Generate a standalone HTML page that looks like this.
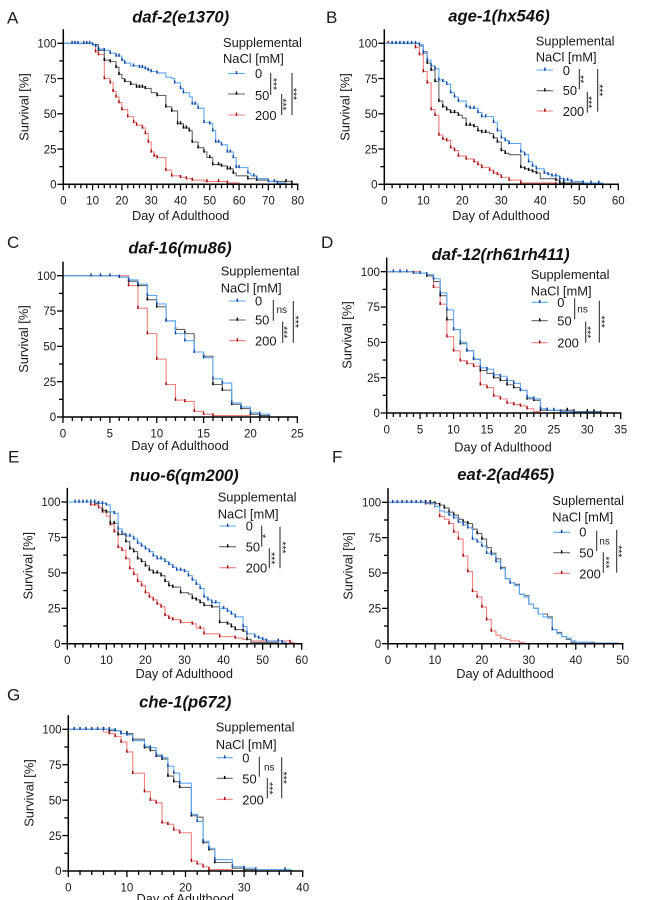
<!DOCTYPE html>
<html lang="en">
<head>
<meta charset="utf-8">
<title>Survival curves with supplemental NaCl</title>
<style>
html,body{margin:0;padding:0;background:#fff;width:645px;height:900px;overflow:hidden}
svg{display:block;font-family:"Liberation Sans",sans-serif;fill:#1a1a1a;filter:blur(.3px)}
</style>
</head>
<body>
<svg id="figure" width="645" height="900" viewBox="0 0 645 900" xmlns="http://www.w3.org/2000/svg"></svg>
<script>
// Panel A: daf-2(e1370)
const aDays0 = [0,10,11,12,14,16,18,20,21,23,26,28,29,30,32,35,37,38,40,41,43,44,46,48,50,51,52,54,56,58,59,63,64,66,70,73,76];
const aSurv0 = [100,99,98,96,95,93,91,88,86,84,83,82,81,80,79,76,75,72,68,65,62,57,54,44,43,38,30,28,23,19,12,8,6,4,2,1,0.5];
const aCens0 = [3,4,5,7,8,9,10,11,12,14,16,18,19,20,21,24,26,27,28,29,30,32,38,40,41,44,45,46,48,50,51,52,53,54,56,57,58,59,60,63,65,66,70,72,73];
const aDays50 = [0,10,12,14,16,18,19,20,21,23,25,28,30,32,35,37,39,41,43,44,46,48,49,51,54,56,58,59,63,66,70,78];
const aSurv50 = [100,99,95,88,87,83,78,75,73,71,69,68,65,63,55,52,43,40,38,30,26,23,19,14,13,11,8,6,4,3,2,1];
const aCens50 = [12,14,16,18,19,21,23,25,26,27,28,32,35,37,39,40,41,42,43,44,46,48,50,51,53,54,56,57,58,63,66,76,78];
const aDays200 = [0,10,11,12,14,16,17,18,19,20,22,24,25,27,28,29,30,31,32,35,37,40,42,44,48,56,60];
const aSurv200 = [100,99,94,92,75,72,66,62,58,53,48,44,42,40,36,30,23,20,19,10,6,5,4,3,2,1,0];
const aCens200 = [11,12,14,16,17,18,19,20,22,24,25,27,28,29,30,31,32,35,37,40,42,44,49,53,56];

// Panel B: age-1(hx546)
const bDays0 = [0,9,10,11,12,13,14,15,16,17,18,19,21,22,24,25,28,29,30,31,32,35,36,37,38,39,41,42,43,45,46,48,51,56];
const bSurv0 = [100,99,93,88,84,82,74,73,71,65,62,59,55,54,51,48,44,38,33,31,29,23,21,16,13,11,8,7,6,4,3,2,1,0];
const bCens0 = [2,3,4,5,6,7,8,9,10,11,12,13,14,15,16,17,18,19,21,22,23,24,25,26,28,29,30,31,32,35,36,37,38,39,41,42,43,44,45,46,47,48,51,53,55];
const bDays50 = [0,9,10,11,12,13,14,15,16,17,19,20,21,23,24,25,27,28,29,30,31,32,35,36,37,38,39,40,44,45,52];
const bSurv50 = [100,98,94,86,81,73,59,55,53,51,49,47,42,41,38,37,36,33,30,24,22,21,12,11,10,9,8,4,3,1,0];
const bCens50 = [10,11,12,13,14,15,16,17,18,19,21,22,23,24,25,26,28,29,30,31,35,36,37,38,39,44,45,46,51];
const bDays200 = [0,8,9,10,11,12,13,14,15,16,17,18,19,21,23,24,25,27,28,29,30,32,35,44];
const bSurv200 = [100,97,92,80,72,53,49,35,32,31,26,24,20,18,16,14,12,10,8,7,5,3,1,0];
const bCens200 = [1,8,9,10,11,12,13,14,15,16,17,18,19,21,23,24,25,27,28,29,30,32,35,44];

// Panel C: daf-16(mu86)
const cDays0 = [0,6,7,8,9,10,11,12,13,14,15,16,17,18,19,20,21,22];
const cSurv0 = [100,99,97,94,86,80,68,59,54,46,42,27,24,10,7,3,2,0];
const cCens0 = [3,4,5,6,7,8,9,10,11,12,13,14,15,16,17,18,19,20,21,22];
const cDays50 = [0,6,7,8,9,10,11,12,13,14,15,16,17,18,19,20,21,22];
const cSurv50 = [100,99,96,93,83,78,68,62,59,46,43,23,19,9,6,2,1,0];
const cCens50 = [6,7,8,9,10,11,12,13,14,15,16,17,18,19,20,21];
const cDays200 = [0,7,8,9,10,11,12,13,14,15,16,20];
const cSurv200 = [100,93,77,59,41,23,12,11,4,2,1,0];
const cCens200 = [7,8,9,10,11,12,13,14,15,16];

// Panel D: daf-12(rh61rh411)
const dDays0 = [0,4,6,7,8,9,10,11,12,13,14,15,16,17,18,19,20,21,22,23,24,26,28,32];
const dSurv0 = [100,99,98,95,85,73,59,50,44,38,32,31,27,26,23,21,16,11,10,3,2,1,0.5,0];
const dCens0 = [1,2,3,4,5,6,7,8,9,10,11,12,13,14,15,16,17,18,19,20,21,22,23,24,25,26,28];
const dDays50 = [0,4,6,7,8,9,10,11,12,13,14,15,16,17,18,19,20,21,22,23,28,32];
const dSurv50 = [100,99,97,93,83,66,59,49,44,38,30,28,25,23,20,18,16,10,9,2,1,0];
const dCens50 = [6,8,9,11,12,13,14,16,17,18,19,20,21,22,23,24,27,28,30,31,32];
const dDays200 = [0,5,6,7,8,9,10,11,12,13,14,15,16,17,18,19,20,21,22,23];
const dSurv200 = [100,99,98,89,77,54,44,37,35,33,20,18,12,10,7,6,5,3,1,0];
const dCens200 = [7,8,9,10,11,12,13,14,15,16,17,18,19,20,21];

// Panel E: nuo-6(qm200)
const eDays0 = [0,8,10,11,12,13,14,15,17,18,19,20,21,22,23,25,26,27,28,30,31,32,33,34,35,36,37,39,41,42,43,45,46,48,49,50,51,54,55,56];
const eSurv0 = [100,99,98,93,92,81,78,76,74,71,69,67,65,62,60,58,56,54,52,51,48,45,42,39,33,31,29,25,23,21,19,12,7,5,4,3,2,2,1,0];
const eCens0 = [2,3,4,5,6,7,8,9,10,12,13,14,15,16,17,18,19,20,21,22,23,24,25,26,27,28,29,30,31,32,33,34,35,36,37,38,40,41,42,43,45,46,48,49,50,51,54,55];
const eDays50 = [0,7,9,10,11,13,15,16,17,18,19,20,21,22,24,25,26,27,29,31,32,33,34,35,37,39,41,42,43,45,46,47,54];
const eSurv50 = [100,99,94,93,85,77,72,67,65,60,58,55,52,50,48,44,41,40,36,35,32,31,29,27,26,15,14,12,10,9,3,1,0];
const eCens50 = [8,9,10,11,12,13,15,16,17,18,19,20,21,22,23,24,25,26,27,29,32,33,34,35,37,39,41,42,43,45,46];
const eDays200 = [0,6,8,9,10,11,12,13,14,15,16,17,18,19,20,21,22,23,24,25,26,27,29,32,33,35,39,43,45,47,57,58];
const eSurv200 = [100,98,96,93,90,84,79,68,66,60,53,49,44,41,36,33,31,28,26,20,18,17,15,14,11,7,5,4,3,2,1,0];
const eCens200 = [6,7,8,9,11,12,13,14,15,16,17,18,19,20,21,22,23,24,25,26,27,29,32,34,35,39,43,57];

// Panel F: eat-2(ad465)
const fDays0 = [0,8,9,10,11,12,13,14,15,16,17,18,19,20,21,22,23,24,25,26,27,28,29,30,31,32,33,34,35,36,37,38,39,40,43,49];
const fSurv0 = [100,99.5,99,97,94,93,91,89,86,84,82,74,72,69,64,63,58,53,46,43,41,35,33,28,25,21,19,18,10,7,5,4,2,1,0.5,0];
const fCens0 = [1,2,3,4,5,6,7,8,9,13,14,15,16,17,18,19,20,21,22,23,24,26,35];
const fDays50 = [0,10,11,12,13,14,15,16,17,18,19,20,21,22,23,24,25,26,27,28,29,30,31,32,34,35,36,37,38,39,44];
const fSurv50 = [100,99,98,96,93,91,88,86,85,81,78,74,68,64,60,54,46,43,42,35,34,28,25,21,19,10,8,5,3,1,0];
const fCens50 = [8,9,10,11,12,13,14,15,16,17,18,19,20,21,22,23];
const fDays200 = [0,8,10,11,12,13,14,15,16,17,18,19,20,21,22,23,24,25,26,28,29];
const fSurv200 = [100,99,97,90,88,85,79,74,62,51,37,33,26,17,9,6,4,3,2,1,0];
const fCens200 = [8,10,11,13,14,15,16,17,18,19,20,21,22];

// Panel G: che-1(p672)
const gDays0 = [0,8,9,10,11,13,14,15,16,17,18,19,21,22,23,24,25,28,30,32,38];
const gSurv0 = [100,99,97,96,92,88,87,82,80,74,69,62,40,35,21,16,8,3,2,1,0];
const gCens0 = [1,2,3,4,5,6,7,8,9,10,11,13,14,15,16,17,18,19,21,22,23,24,25,28,30,32,37];
const gDays50 = [0,7,9,11,13,14,15,16,17,18,19,21,22,23,24,25,28,30,32];
const gSurv50 = [100,99,97,93,87,85,81,79,67,63,59,39,38,20,15,6,2,1,0];
const gCens50 = [6,7,8,9,10,11,13,14,15,16,17,18,19,21,22,23,24,25,30];
const gDays200 = [0,6,7,8,9,10,11,13,14,15,16,17,18,19,21,22,23,24,28];
const gSurv200 = [100,98,97,95,91,84,69,56,50,48,34,33,29,27,7,5,3,1,0];
const gCens200 = [7,8,9,10,11,13,14,15,16,17,18,19,21,22,23,24];

const doseLabels = ['0','50','200'];
const yTickValues = [0,25,50,75,100];

const NS = 'http://www.w3.org/2000/svg';
const root = document.getElementById('figure');

const panels = [
 {id:'a',letter:'A',lx:7,ly:23.3,title:'daf-2(e1370)',tx:180.7,ty:22.7,x0:63.3,x1:297.7,y0:184.3,y100:43.3,xMax:80,xMajor:10,xMinor:2,
  xtx:180.7,xty:220,ytx:24,yty:107,head:'Supplemental',hx:223,hy1:47,hy2:63,sx1:228,sx2:245,sy:[73.5,94,115],vx:255,vy:[78,100,120],
  bars:[[270.7,73,95,'***',276],[281.7,94,115,'***',285.5],[292,73,115,'***',296]],
  series:[[aDays0,aSurv0,aCens0],[aDays50,aSurv50,aCens50],[aDays200,aSurv200,aCens200]]},
 {id:'b',letter:'B',lx:326,ly:23,title:'age-1(hx546)',tx:499,ty:21.7,x0:384.3,x1:618.3,y0:184.3,y100:43.3,xMax:60,xMajor:10,xMinor:2,
  xtx:501,xty:220,ytx:345,yty:107,head:'Supplemental',hx:535.7,hy1:45.7,hy2:61.7,sx1:536.7,sx2:553,sy:[70,90.7,111],vx:562.7,vy:[75,95,116],
  bars:[[579.3,69,89.3,'**',583],[587.3,91.7,112.7,'***',591],[597.7,69,111.7,'***',602]],
  series:[[bDays0,bSurv0,bCens0],[bDays50,bSurv50,bCens50],[bDays200,bSurv200,bCens200]]},
 {id:'c',letter:'C',lx:7,ly:248,title:'daf-16(mu86)',tx:180,ty:253.3,x0:63,x1:297.3,y0:417,y100:275.7,xMax:25,xMajor:5,xMinor:1,
  xtx:180,xty:450,ytx:23.5,yty:339,head:'Supplemental',hx:220.7,hy1:275.7,hy2:292.3,sx1:229,sx2:245.7,sy:[301,320,340.7],vx:255,vy:[305.7,324.3,345.7],
  bars:[[273.3,300,320.7,'ns',276.5,313],[282.7,321.7,342.7,'***',286.5],[293.3,301,342.7,'***',298]],
  series:[[cDays0,cSurv0,cCens0],[cDays50,cSurv50,cCens50],[cDays200,cSurv200,cCens200]]},
 {id:'d',letter:'D',lx:321,ly:248,title:'daf-12(rh61rh411)',tx:500.7,ty:260,x0:386.7,x1:620.7,y0:413,y100:271.7,xMax:35,xMajor:5,xMinor:1,
  xtx:503,xty:451.7,ytx:347,yty:335,head:'Supplemental',hx:530.7,hy1:279,hy2:295.7,sx1:531.7,sx2:547.7,sy:[302.3,320.7,342.7],vx:557.3,vy:[307,325.7,347.3],
  bars:[[574.7,298.3,319.3,'ns',577.3,312.3],[585.7,321.7,342.7,'***',590],[599.3,300.7,342.7,'***',604]],
  series:[[dDays0,dSurv0,dCens0],[dDays50,dSurv50,dCens50],[dDays200,dSurv200,dCens200]]},
 {id:'e',letter:'E',lx:8,ly:462.7,title:'nuo-6(qm200)',tx:184.3,ty:481,x0:67.3,x1:301.7,y0:643.7,y100:502,xMax:60,xMajor:10,xMinor:2,
  xtx:184.3,xty:678,ytx:28,yty:565.7,head:'Supplemental',hx:217.7,hy1:501.7,hy2:518.3,sx1:219.3,sx2:236,sy:[526,546.7,567.7],vx:245.7,vy:[530.7,551.7,572.3],
  bars:[[261.7,525.7,546.7,'*',265],[269.3,548.3,568.3,'***',274],[280,526.7,568.3,'***',285]],
  series:[[eDays0,eSurv0,eCens0],[eDays50,eSurv50,eCens50],[eDays200,eSurv200,eCens200]]},
 {id:'f',letter:'F',lx:332,ly:462.7,title:'eat-2(ad465)',tx:505.7,ty:480,x0:388,x1:622.7,y0:643.7,y100:502.3,xMax:50,xMajor:10,xMinor:2,
  xtx:505,xty:678,ytx:348,yty:566,head:'Suplemental',hx:552.3,hy1:505,hy2:521.7,sx1:553.3,sx2:570,sy:[532.3,552.7,573.3],vx:579.3,vy:[536.7,557.3,578.3],
  bars:[[596.7,530.7,551,'ns',599.3,544.3],[603.3,552.3,572.7,'***',608.3],[616.7,530,572.7,'***',621]],
  series:[[fDays0,fSurv0,fCens0],[fDays50,fSurv50,fCens50],[fDays200,fSurv200,fCens200]]},
 {id:'g',letter:'G',lx:7,ly:700.7,title:'che-1(p672)',tx:185.3,ty:707.7,x0:68.3,x1:302.7,y0:871,y100:729.3,xMax:40,xMajor:10,xMinor:2,
  xtx:185.3,xty:903,ytx:29,yty:793,head:'Supplemental',hx:215.7,hy1:731.7,hy2:749,sx1:216.7,sx2:232.7,sy:[757.7,778.3,799.3],vx:242.3,vy:[762.7,783.3,804.3],
  bars:[[259.3,756.7,776.7,'ns',264,770.7],[267.3,778.3,798.3,'***',271.7],[281.7,757.3,798.3,'***',286]],
  series:[[gDays0,gSurv0,gCens0],[gDays50,gSurv50,gCens50],[gDays200,gSurv200,gCens200]]}
];

const lineColors = ['#5da8f5','#666666','#f58080'];
const markColors = ['#1a49a0','#000000','#a01010'];

function mk(tag, attrs, parent) {
  const e = document.createElementNS(NS, tag);
  for (const k in attrs) e.setAttribute(k, attrs[k]);
  parent.appendChild(e);
  return e;
}
function mkText(str, attrs, parent) {
  const e = mk('text', attrs, parent);
  e.textContent = str;
  return e;
}
function survivalAt(days, surv, d) {
  let v = surv[0];
  for (let i = 0; i < days.length; i++) { if (days[i] <= d) v = surv[i]; }
  return v;
}

panels.forEach(function (p) {
  const xScale = function (d) { return p.x0 + (p.x1 - p.x0) * d / p.xMax; };
  const yScale = function (s) { return p.y0 - (p.y0 - p.y100) * s / 100; };

  const g = mk('g', {}, root);
  
  

  const letter = mkText(p.letter, {x:p.lx, y:p.ly, 'font-size':17}, g);
  
  

  const title = mkText(p.title, {x:p.tx, y:p.ty, 'font-size':16.6, 'font-weight':'bold', 'font-style':'italic', 'text-anchor':'middle', fill:'#111'}, g);
  
  

  // series lines (200 drawn first, 0 last)
  [2,1,0].forEach(function (k) {
    const days = p.series[k][0], surv = p.series[k][1], cens = p.series[k][2];
    let d = 'M' + xScale(days[0]).toFixed(2) + ' ' + yScale(surv[0]).toFixed(2);
    for (let i = 1; i < days.length; i++) {
      d += 'H' + xScale(days[i]).toFixed(2) + 'V' + yScale(surv[i]).toFixed(2);
    }
    const line = mk('path', {d:d, fill:'none', stroke:lineColors[k], 'stroke-width':1.1}, g);
    
    
    cens.forEach(function (day) {
      const cx = xScale(day), cy = yScale(survivalAt(days, surv, day));
      const m = mk('line', {x1:cx, x2:cx, y1:cy - 2.4, y2:cy + 0.8, stroke:markColors[k], 'stroke-width':1.5}, g);
      
      
    });
  });

  // axes
  const yAxis = mk('line', {x1:p.x0, x2:p.x0, y1:yScale(110), y2:p.y0 + 0.7, stroke:'#000', 'stroke-width':1.5}, g);
  
  
  const xAxis = mk('line', {x1:p.x0 - 0.7, x2:p.x1 + 0.7, y1:p.y0, y2:p.y0, stroke:'#000', 'stroke-width':1.5}, g);
  
  

  for (let d = 0; d <= p.xMax; d += p.xMinor) {
    const major = d % p.xMajor === 0;
    const t = mk('line', {x1:xScale(d), x2:xScale(d), y1:p.y0, y2:p.y0 + (major ? 6 : 4), stroke:'#000', 'stroke-width':1.3}, g);
    
    
    if (major) {
      const lab = mkText(String(d), {x:xScale(d), y:p.y0 + 20.4, 'font-size':11.5, 'text-anchor':'middle'}, g);
      
      
    }
  }
  yTickValues.forEach(function (v, i) {
    const t = mk('line', {x1:p.x0 - 6, x2:p.x0, y1:yScale(v), y2:yScale(v), stroke:'#000', 'stroke-width':1.3}, g);
    
    
    const lab = mkText(String(v), {x:p.x0 - 6.8, y:yScale(v) + 4.2, 'font-size':11.5, 'text-anchor':'end'}, g);
    
    
    if (i < yTickValues.length - 1) {
      const mid = (v + yTickValues[i + 1]) / 2;
      const m = mk('line', {x1:p.x0 - 4, x2:p.x0, y1:yScale(mid), y2:yScale(mid), stroke:'#000', 'stroke-width':1.3}, g);
      
      
    }
  });

  const xt = mkText('Day of Adulthood', {x:p.xtx, y:p.xty, 'font-size':12.8, 'text-anchor':'middle'}, g);
  
  
  const yt = mkText('Survival [%]', {x:0, y:0, 'font-size':12.8, 'text-anchor':'middle', transform:'translate(' + (p.ytx + 4.5) + ' ' + p.yty + ') rotate(-90)'}, g);
  
  

  // legend
  const h1 = mkText(p.head, {x:p.hx, y:p.hy1, 'font-size':12.9}, g);
  
  
  const h2 = mkText('NaCl [mM]', {x:p.hx, y:p.hy2, 'font-size':12.9}, g);
  
  
  doseLabels.forEach(function (lab, k) {
    const s = mk('line', {x1:p.sx1, x2:p.sx2, y1:p.sy[k], y2:p.sy[k], stroke:lineColors[k], 'stroke-width':1.1}, g);
    
    
    const mx = (p.sx1 + p.sx2) / 2;
    const m = mk('line', {x1:mx, x2:mx, y1:p.sy[k] - 2.4, y2:p.sy[k] + 0.8, stroke:markColors[k], 'stroke-width':1.5}, g);
    
    
    const v = mkText(lab, {x:p.vx, y:p.vy[k], 'font-size':12.9}, g);
    
    
  });

  // significance brackets
  p.bars.forEach(function (b) {
    const bar = mk('line', {x1:b[0], x2:b[0], y1:b[1], y2:b[2], stroke:'#222', 'stroke-width':1}, g);
    
    
    let t;
    if (b[3] === 'ns') {
      t = mkText('ns', {x:b[4], y:b[5], 'font-size':10}, g);
    } else {
      const cy = (b[1] + b[2]) / 2;
      t = mkText(b[3], {x:0, y:0, 'font-size':10.5, 'text-anchor':'middle', transform:'translate(' + (b[4] - 5.8) + ' ' + cy + ') rotate(90)'}, g);
    }
    
    
  });
});
</script>
</body>
</html>
